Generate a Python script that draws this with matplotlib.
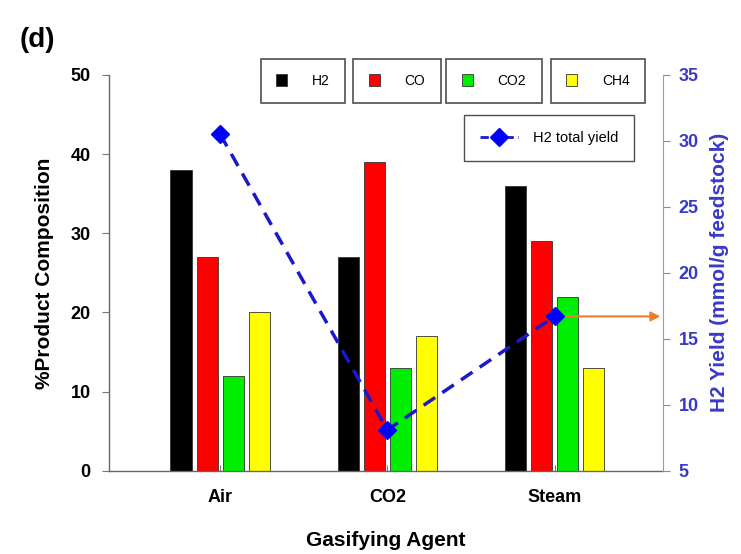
import matplotlib
matplotlib.use("Agg")
import matplotlib.pyplot as plt
import numpy as np
from matplotlib.patches import Patch
from matplotlib.lines import Line2D

plt.rcParams["font.family"] = ["Liberation Sans", "DejaVu Sans"]

agents = ["Air", "CO2", "Steam"]
gases = ["H2", "CO", "CO2", "CH4"]
gas_colors = ["#000000", "#FF0000", "#00EE00", "#FFFF00"]
composition = {
    "H2": [38, 27, 36],
    "CO": [27, 39, 29],
    "CO2": [12, 13, 22],
    "CH4": [20, 17, 13],
}
h2_yield = [30.5, 8.1, 16.7]

BLUE = "#3A3AC8"

fig = plt.figure(figsize=(7.41, 5.54), dpi=100)
ax = fig.add_axes([0.147, 0.150, 0.748, 0.715])
ax2 = ax.twinx()

x = np.arange(len(agents))
step = 0.156
width = 0.126
for i, g in enumerate(gases):
    ax.bar(x + (i - 1.5) * step, composition[g], width, color=gas_colors[i],
           edgecolor="#333333", linewidth=0.6, zorder=2)

ax.set_xlim(-0.665, 2.65)
ax.set_ylim(0, 50)
ax.set_yticks(range(0, 51, 10))
ax.set_xticks(x)
ax.set_xticklabels(agents)
for lab in ax.get_xticklabels() + ax.get_yticklabels():
    lab.set_fontweight("bold")
    lab.set_fontsize(13)
ax.tick_params(axis="both", direction="out", length=5, color="#777777", pad=8)
ax.tick_params(axis="x", length=4, direction="in", pad=13)
ax.set_ylabel("%Product Composition", fontsize=15, fontweight="bold", labelpad=12)
ax.set_xlabel("Gasifying Agent", fontsize=15, fontweight="bold", labelpad=18)
for s in ["top", "right"]:
    ax.spines[s].set_visible(False)
for s in ["left", "bottom"]:
    ax.spines[s].set_color("#666666")
    ax.spines[s].set_linewidth(1.0)

ax2.plot(x, h2_yield, linestyle=(0, (4, 2.5)), color="#1A1ACC", linewidth=2.5,
         marker="D", markersize=9, markerfacecolor="#0000FF",
         markeredgecolor="#0000FF", zorder=5)
ax2.annotate("", xy=(2.65, h2_yield[2]), xytext=(x[2], h2_yield[2]),
             xycoords=("data", "data"),
             arrowprops=dict(arrowstyle="-|>", color="#ED7D31", lw=1.5,
                             mutation_scale=14, shrinkA=6, shrinkB=2))
ax2.set_ylim(5, 35)
ax2.set_yticks(range(5, 36, 5))
for lab in ax2.get_yticklabels():
    lab.set_fontweight("bold")
    lab.set_fontsize(13)
    lab.set_color(BLUE)
ax2.tick_params(axis="y", direction="out", length=5, color="#8888AA", pad=6)
ax2.set_ylabel("H2 Yield (mmol/g feedstock)", fontsize=15, fontweight="bold",
               color=BLUE, labelpad=8)
for s in ["top", "left", "bottom"]:
    ax2.spines[s].set_visible(False)
ax2.spines["right"].set_color("#9999BB")

# one legend box per gas, as in the original
centers = [303, 397, 494, 598]
for i, g in enumerate(gases):
    h = Patch(facecolor=gas_colors[i], edgecolor="#333333", linewidth=0.6)
    lg = fig.legend([h], [g], loc="center",
                    bbox_to_anchor=(centers[i] / 741, 1 - 81 / 554),
                    fontsize=10, frameon=True, fancybox=False,
                    handlelength=0.8, handleheight=1.0, handletextpad=1.8,
                    borderpad=1.1, borderaxespad=0)
    lg.get_frame().set_edgecolor("#222222")
    lg.get_frame().set_linewidth(1.2)

line_h = Line2D([], [], linestyle=(0, (3, 1.5)), color="#1A1ACC", linewidth=2,
                marker="D", markersize=9, markerfacecolor="#0000FF",
                markeredgecolor="#0000FF")
lg2 = fig.legend([line_h], ["H2 total yield"], loc="center",
                 bbox_to_anchor=(549 / 741, 1 - 138 / 554), fontsize=10.5,
                 frameon=True, fancybox=False, handlelength=2.6,
                 handletextpad=1.0, borderpad=1.1, borderaxespad=0)
lg2.get_frame().set_edgecolor("#222222")
lg2.get_frame().set_linewidth(1.0)

fig.text(20 / 741, 1 - 40 / 554, "(d)", fontsize=20, fontweight="bold",
         va="center", ha="left")

fig.savefig("out.png", dpi=100)
